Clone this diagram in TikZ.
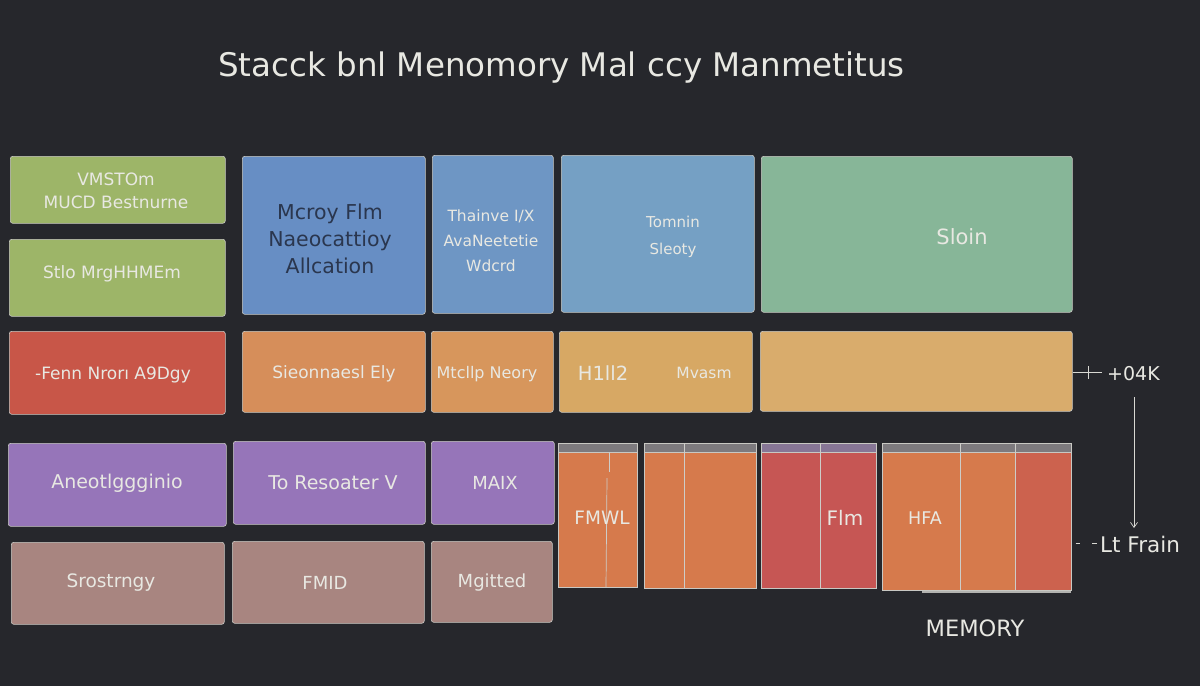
\documentclass[tikz,border=0pt]{standalone}
\usepackage{fontspec}
\setmainfont{DejaVu Sans}
\usetikzlibrary{arrows.meta}
\definecolor{bgc}{RGB}{38,39,44}
\definecolor{edge}{RGB}{200,200,195}
\definecolor{txt}{RGB}{232,232,226}
\definecolor{darktxt}{RGB}{42,54,78}
\definecolor{cgreen}{RGB}{157,181,104}
\definecolor{cblueA}{RGB}{103,142,196}
\definecolor{cblueB}{RGB}{110,150,196}
\definecolor{cblueC}{RGB}{117,160,196}
\definecolor{cteal}{RGB}{135,182,152}
\definecolor{cred}{RGB}{200,86,72}
\definecolor{corA}{RGB}{214,142,90}
\definecolor{corB}{RGB}{215,150,92}
\definecolor{corC}{RGB}{215,168,100}
\definecolor{corD}{RGB}{217,172,108}
\definecolor{cpurple}{RGB}{150,117,185}
\definecolor{cmauve}{RGB}{168,133,128}
\definecolor{barO}{RGB}{214,122,76}
\definecolor{barR}{RGB}{198,86,84}
\definecolor{barRO}{RGB}{204,98,78}
\definecolor{capc}{RGB}{125,122,126}
\definecolor{capp}{RGB}{135,118,150}
\begin{document}
\begin{tikzpicture}[x=1pt,y=-1pt,
  box/.style={draw=edge, line width=0.6pt, rounded corners=2.5pt, inner sep=0pt, anchor=north west},
  lbl/.style={text=txt, inner sep=0pt, align=center, font=\fontsize{17}{26}\selectfont},
  bar/.style={draw=edge, line width=0.5pt, inner sep=0pt, anchor=north west},
  capbox/.style={fill=capc, draw=edge, line width=0.4pt, inner sep=0pt, anchor=south west, minimum height=9pt},
  divl/.style={draw=edge!90!white, line width=0.7pt},
  note/.style={draw=txt!85!gray, line width=0.7pt}
]
\fill[bgc] (0,0) rectangle (1200,686);
\useasboundingbox (0,0) rectangle (1200,686);

% title
\node[text=txt, inner sep=0pt, anchor=west, font=\fontsize{32.5}{36}\selectfont] (title) at (218,68) {Stacck bnl Menomory Mal ccy Manmetitus};

% row 1
\node[box, fill=cgreen, minimum width=215pt, minimum height=67pt] (g1) at (10,156) {};
\node[box, fill=cgreen, minimum width=216pt, minimum height=77pt] (g2) at (9,239) {};
\node[box, fill=cblueA, minimum width=183pt, minimum height=158pt] (b1) at (242,156) {};
\node[box, fill=cblueB, minimum width=121pt, minimum height=158pt] (b2) at (432,155) {};
\node[box, fill=cblueC, minimum width=193pt, minimum height=157pt] (b3) at (561,155) {};
\node[box, fill=cteal, minimum width=311pt, minimum height=156pt] (t1) at (761,156) {};

\node[lbl, font=\fontsize{17}{23}\selectfont] (g1t) at (116,191) {VMSTOm\\MUCD Bestnurne};
\node[lbl] (g2t) at (112,274) {Stlo MrgHHMEm};
\node[lbl, text=darktxt, font=\fontsize{20.5}{27}\selectfont] (b1t) at (330,239) {Mcroy Flm\\Naeocattioy\\Allcation};
\node[lbl, font=\fontsize{15.5}{25}\selectfont] (b2t) at (491,241) {Thainve I/X\\AvaNeetetie\\Wdcrd};
\node[lbl, font=\fontsize{15}{27}\selectfont] (b3t) at (673,237) {Tomnin\\Sleoty};
\node[lbl, font=\fontsize{21}{26}\selectfont] (t1t) at (962,237) {Sloin};

% row 2
\node[box, fill=cred, minimum width=216pt, minimum height=83pt] (r1) at (9,331) {};
\node[box, fill=corA, minimum width=183pt, minimum height=81pt] (o1) at (242,331) {};
\node[box, fill=corB, minimum width=122pt, minimum height=81pt] (o2) at (431,331) {};
\node[box, fill=corC, minimum width=193pt, minimum height=81pt] (o3) at (559,331) {};
\node[box, fill=corD, minimum width=312pt, minimum height=80pt] (o4) at (760,331) {};

\node[lbl] (r1t) at (113,375) {-Fenn Nrorı A9Dgy};
\node[lbl] (o1t) at (334,374) {Sieonnaesl Ely};
\node[lbl, font=\fontsize{16}{26}\selectfont] (o2t) at (487,374) {Mtcllp Neory};
\node[lbl, font=\fontsize{19.5}{26}\selectfont] (o3a) at (603,373) {H1ll2};
\node[lbl, font=\fontsize{15.5}{26}\selectfont] (o3b) at (704,373) {Mvasm};

% row 3
\node[box, fill=cpurple, minimum width=218pt, minimum height=83pt] (p1) at (8,443) {};
\node[box, fill=cpurple, minimum width=192pt, minimum height=83pt] (p2) at (233,441) {};
\node[box, fill=cpurple, minimum width=123pt, minimum height=83pt] (p3) at (431,441) {};
\node[box, fill=cmauve, minimum width=213pt, minimum height=82pt] (m1) at (11,542) {};
\node[box, fill=cmauve, minimum width=192pt, minimum height=82pt] (m2) at (232,541) {};
\node[box, fill=cmauve, minimum width=121pt, minimum height=81pt] (m3) at (431,541) {};

\node[lbl, font=\fontsize{19}{26}\selectfont] (p1t) at (117,483) {Aneotlggginio};
\node[lbl, font=\fontsize{19}{26}\selectfont] (p2t) at (333,483) {To Resoater V};
\node[lbl, font=\fontsize{18}{26}\selectfont] (p3t) at (495,483) {MAIX};
\node[lbl, font=\fontsize{18.5}{26}\selectfont] (m1t) at (111,583) {Srostrngy};
\node[lbl, font=\fontsize{18}{26}\selectfont] (m2t) at (325,583) {FMID};
\node[lbl, font=\fontsize{18}{26}\selectfont] (m3t) at (492,583) {Mgitted};

% memory bars
\node[bar, fill=barO, minimum width=79pt, minimum height=135pt] (k1) at (558,452) {};
\node[bar, fill=barO, minimum width=112pt, minimum height=136pt] (k2) at (644,452) {};
\node[bar, fill=barR, minimum width=115pt, minimum height=136pt] (k3) at (761,452) {};
\node[bar, fill=barO, minimum width=189pt, minimum height=138pt] (k4) at (882,452) {};
\fill[barRO] (1015,452) rectangle (1071,590);
\draw[edge, line width=0.5pt] (k4.north west) rectangle (k4.south east);

\node[capbox, minimum width=79pt] (c1) at (k1.north west) {};
\node[capbox, minimum width=112pt] (c2) at (k2.north west) {};
\node[capbox, fill=capp, minimum width=115pt] (c3) at (k3.north west) {};
\node[capbox, minimum width=189pt] (c4) at (k4.north west) {};

\draw[divl] (609,452) -- (609,472);
\draw[divl] (607,478) -- (606,587);
\draw[divl] (684,443) -- (684,588);
\draw[divl] (820,443) -- (820,588);
\draw[divl] (960,443) -- (960,590);
\draw[divl] (1015,443) -- (1015,590);

\node[lbl, font=\fontsize{18.5}{26}\selectfont] (k1t) at (602,518) {FMWL};
\node[lbl, font=\fontsize{20}{26}\selectfont] (k3t) at (845,518) {Flm};
\node[lbl, font=\fontsize{17.5}{26}\selectfont] (k4t) at (925,518) {HFA};

\draw[edge!70!gray, line width=1.2pt] (922,592) -- (1071,592);

% annotations
\node[lbl, anchor=west, font=\fontsize{19}{26}\selectfont] (ann1) at (1107,374) {+04K};
\node[lbl, anchor=west, font=\fontsize{21.5}{26}\selectfont] (ann2) at (1100,544) {Lt Frain};
\coordinate (tk1) at (1102,372);
\coordinate (arrtop) at (1134,397);
\coordinate (arrbot) at (1134,528);
\coordinate (tk2) at (1092,543);
\draw[note] (o4.east |- tk1) -- (tk1);
\draw[note] (1088,366) -- (1088,379);
\draw[note, -{Straight Barb[length=5pt,width=7pt]}] (arrtop) -- (arrbot);
\draw[note] (k4.east |- tk2) ++(4,0) -- ++(4,0);
\draw[note] (tk2) -- ++(5,0);

\node[text=txt, inner sep=0pt, font=\fontsize{22.5}{24}\selectfont] (mem) at (975,628) {MEMORY};
\end{tikzpicture}
\end{document}
